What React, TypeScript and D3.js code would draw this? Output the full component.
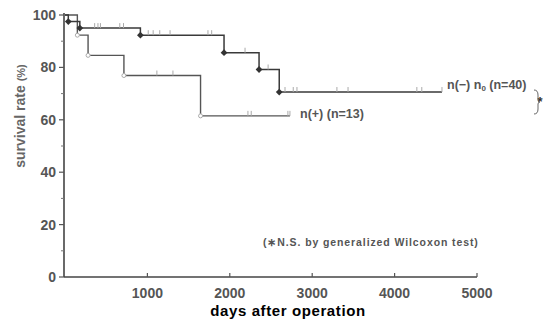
import * as d3 from "d3"

// n(-) n0 group (n=40): step drops (days, survival %)
const negTimes = [0, 40, 180, 915, 1930, 2355, 2600]
const negSurv = [100, 97.5, 95, 92.3, 85.6, 79.2, 70.6]
const negEnd = 4575
const negCensor = [360, 400, 430, 665, 710, 1010, 1070, 1150, 1275, 1735, 1780, 2185, 2465, 2670, 2770, 2815, 3300, 3435, 4270, 4330, 4575]

// n(+) group (n=13)
const posTimes = [0, 150, 280, 715, 1645]
const posSurv = [100, 92.3, 84.6, 76.9, 61.5]
const posEnd = 2730
const posCensor = [1115, 1310, 2220, 2260, 2705, 2730]

const xTicks = [1000, 2000, 3000, 4000, 5000]
const yTicks = [0, 20, 40, 60, 80, 100]
const yMinor = [10, 30, 50, 70, 90]

const W = 544
const H = 323

const x = d3.scaleLinear().domain([0, 5000]).range([65, 477])
const y = d3.scaleLinear().domain([0, 100]).range([277, 15])

function stepPath(times: number[], surv: number[], end: number) {
  const pts: [number, number][] = times.map((t, i) => [t, surv[i]])
  pts.push([end, surv[surv.length - 1]])
  const line = d3
    .line<[number, number]>()
    .x((d) => x(d[0]))
    .y((d) => y(d[1]))
    .curve(d3.curveStepAfter)
  return line(pts) || ""
}

function survAt(times: number[], surv: number[], t: number) {
  let s = surv[0]
  times.forEach((tt, i) => {
    if (tt <= t) s = surv[i]
  })
  return s
}

export default function App() {
  const font = "'Liberation Sans', Arial, sans-serif"
  return (
    <div style={{ position: "fixed", left: 0, top: 0 }}>
      <svg width={W} height={H} style={{ display: "block", background: "#fff" }} fontFamily={font}>
        {/* axes */}
        <line x1={64} x2={64} y1={y(100) - 2} y2={y(0)} stroke="#444" strokeWidth={1.6} />
        <line x1={64} x2={x(5000)} y1={y(0)} y2={y(0)} stroke="#444" strokeWidth={1.6} />
        {yTicks.map((t) => (
          <g key={t}>
            <line x1={59} x2={64} y1={y(t)} y2={y(t)} stroke="#555" strokeWidth={1.2} />
            <text x={56} y={y(t) + 5} textAnchor="end" fontSize={14} fill="#555" fontWeight="bold">
              {t}
            </text>
          </g>
        ))}
        {yMinor.map((t) => (
          <line key={t} x1={61} x2={64} y1={y(t)} y2={y(t)} stroke="#777" strokeWidth={1} />
        ))}
        {xTicks.map((t) => (
          <g key={t}>
            <line x1={x(t)} x2={x(t)} y1={y(0) - 4} y2={y(0)} stroke="#555" strokeWidth={1.2} />
            <text x={x(t)} y={298} textAnchor="middle" fontSize={14} fill="#555" fontWeight="bold">
              {t}
            </text>
          </g>
        ))}
        <text x={288} y={316} textAnchor="middle" fontSize={15} fontWeight="bold" fill="#000" letterSpacing={0.6}>
          days after operation
        </text>
        <text
          transform={`translate(25,${116}) rotate(-90)`}
          textAnchor="middle"
          fontSize={14}
          fontWeight="bold"
          fill="#666"
        >
          survival rate <tspan fontSize={11}>(%)</tspan>
        </text>

        {/* n(+) curve */}
        <path d={stepPath(posTimes, posSurv, posEnd)} fill="none" stroke="#555" strokeWidth={1.4} />
        {posCensor.map((t, i) => (
          <line
            key={i}
            x1={x(t)}
            x2={x(t)}
            y1={y(survAt(posTimes, posSurv, t)) - 5}
            y2={y(survAt(posTimes, posSurv, t))}
            stroke="#aaa"
            strokeWidth={1}
          />
        ))}
        {posTimes.slice(1).map((t, i) => (
          <circle key={i} cx={x(t)} cy={y(posSurv[i + 1])} r={2} fill="#fff" stroke="#aaa" strokeWidth={1} />
        ))}

        {/* n(-) curve */}
        <path d={stepPath(negTimes, negSurv, negEnd)} fill="none" stroke="#3a3a3a" strokeWidth={1.5} />
        {negCensor.map((t, i) => (
          <line
            key={i}
            x1={x(t)}
            x2={x(t)}
            y1={y(survAt(negTimes, negSurv, t)) - 5}
            y2={y(survAt(negTimes, negSurv, t))}
            stroke="#aaa"
            strokeWidth={1}
          />
        ))}
        {negTimes.slice(1).map((t, i) => (
          <rect
            key={i}
            x={-2.4}
            y={-2.4}
            width={4.8}
            height={4.8}
            transform={`translate(${x(t)},${y(negSurv[i + 1])}) rotate(45)`}
            fill="#333"
          />
        ))}

        {/* labels */}
        <text x={447} y={89} fontSize={12.5} fontWeight="bold" fill="#555">
          n(−) n<tspan fontSize={8} dy={2}>0</tspan>
          <tspan dy={-2}> (n=40)</tspan>
        </text>
        <text x={300} y={118} fontSize={12.5} fontWeight="bold" fill="#555">
          n(+) (n=13)
        </text>
        <path d="M534,90 q4,0 4,5 v5 q0,2 2,2 q-2,0 -2,2 v5 q0,5 -4,5" fill="none" stroke="#666" strokeWidth={1} />
        <text x={540} y={106} fontSize={13} fontWeight="bold" fill="#333" textAnchor="middle">
          *
        </text>
        <text x={263} y={246} fontSize={10.5} fontWeight="bold" fill="#555" letterSpacing={0.9}>
          (∗N.S. by generalized Wilcoxon test)
        </text>
      </svg>
    </div>
  )
}
